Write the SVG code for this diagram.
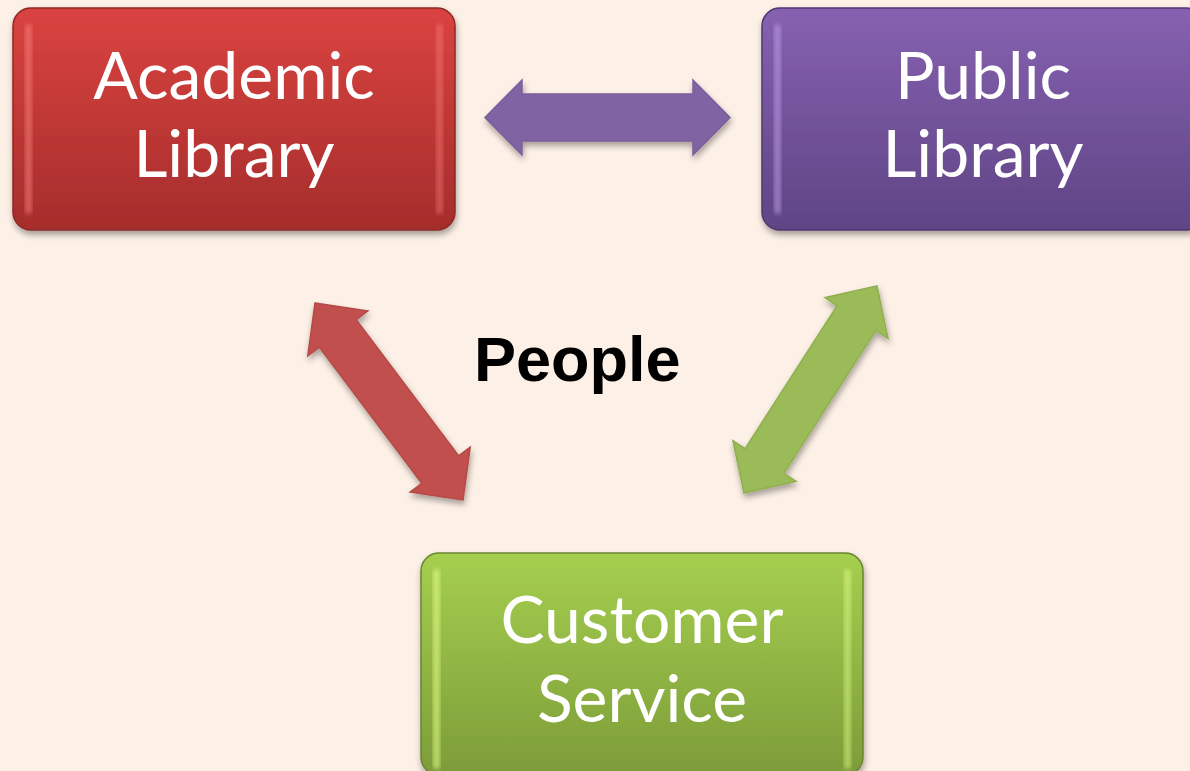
<svg xmlns="http://www.w3.org/2000/svg" width="1190" height="771" viewBox="0 0 1190 771">
<defs>
<style>
.lbl{font-family:Lato,"Liberation Sans",sans-serif;font-size:66px;fill:#ffffff;text-anchor:middle}
.ppl{font-family:"Liberation Sans",Arial,sans-serif;font-weight:bold;font-size:63px;fill:#000000}
</style>
<linearGradient id="gRed" x1="0" y1="0" x2="0" y2="1">
<stop offset="0" stop-color="#da4340"/><stop offset="1" stop-color="#a52d2b"/>
</linearGradient>
<linearGradient id="gPur" x1="0" y1="0" x2="0" y2="1">
<stop offset="0" stop-color="#8661b0"/><stop offset="1" stop-color="#5f4585"/>
</linearGradient>
<linearGradient id="gGrn" x1="0" y1="0" x2="0" y2="1">
<stop offset="0" stop-color="#a6cf4f"/><stop offset="1" stop-color="#7c9c39"/>
</linearGradient>
<filter id="sh" x="-10%" y="-10%" width="120%" height="130%">
<feGaussianBlur in="SourceAlpha" stdDeviation="3"/>
<feOffset dx="1" dy="4" result="b"/>
<feComponentTransfer><feFuncA type="linear" slope="0.35"/></feComponentTransfer>
<feMerge><feMergeNode/><feMergeNode in="SourceGraphic"/></feMerge>
</filter>
<filter id="bl"><feGaussianBlur stdDeviation="2"/></filter>
</defs>
<rect width="1190" height="771" fill="#fdf0e6"/>

<g id="connectors" filter="url(#sh)">
<polygon fill="#8064a2" stroke="#7a5e9c" stroke-width="1.5" points="485,117.5 522,80 522,94 693,94 693,80 730,117.5 693,155 693,141 522,141 522,155"/>
<polygon fill="#c0504d" stroke="#b54a47" stroke-width="1.5" points="315,303 367.8,310.9 356.2,319.6 458.6,455.8 470.2,447.1 463,500 410.2,492.1 421.8,483.4 319.4,347.2 307.8,355.9"/>
<polygon fill="#9bbb59" stroke="#90b050" stroke-width="1.5" points="877,286 888,338.3 875.9,330.4 783.9,473.4 796.1,481.3 744,493 732.9,440.7 745.1,448.6 837.1,305.6 824.9,297.7"/>
</g>

<g id="academic">
<rect x="13" y="8" width="442" height="222" rx="18" fill="url(#gRed)" stroke="#8f2826" stroke-width="1.5" filter="url(#sh)"/>
<rect x="25" y="24" width="7" height="190" rx="3.5" fill="#ff8a86" opacity="0.5" filter="url(#bl)"/>
<rect x="436" y="24" width="7" height="190" rx="3.5" fill="#ff8a86" opacity="0.4" filter="url(#bl)"/>
<text class="lbl" x="234" y="99">Academic</text>
<text class="lbl" x="234" y="177">Library</text>
</g>

<g id="public">
<rect x="762" y="8" width="442" height="222" rx="18" fill="url(#gPur)" stroke="#4e3870" stroke-width="1.5" filter="url(#sh)"/>
<rect x="774" y="24" width="7" height="190" rx="3.5" fill="#c9a8f5" opacity="0.5" filter="url(#bl)"/>
<text class="lbl" x="983" y="99">Public</text>
<text class="lbl" x="983" y="177">Library</text>
</g>

<g id="customer">
<rect x="421" y="553" width="442" height="222" rx="18" fill="url(#gGrn)" stroke="#6a8530" stroke-width="1.5" filter="url(#sh)"/>
<rect x="433" y="569" width="7" height="200" rx="3.5" fill="#e4ff88" opacity="0.6" filter="url(#bl)"/>
<rect x="844" y="569" width="7" height="200" rx="3.5" fill="#e4ff88" opacity="0.5" filter="url(#bl)"/>
<text class="lbl" x="642" y="643">Customer</text>
<text class="lbl" x="642" y="722">Service</text>
</g>

<g id="people">
<text class="ppl" x="474" y="381">People</text>
</g>
</svg>
